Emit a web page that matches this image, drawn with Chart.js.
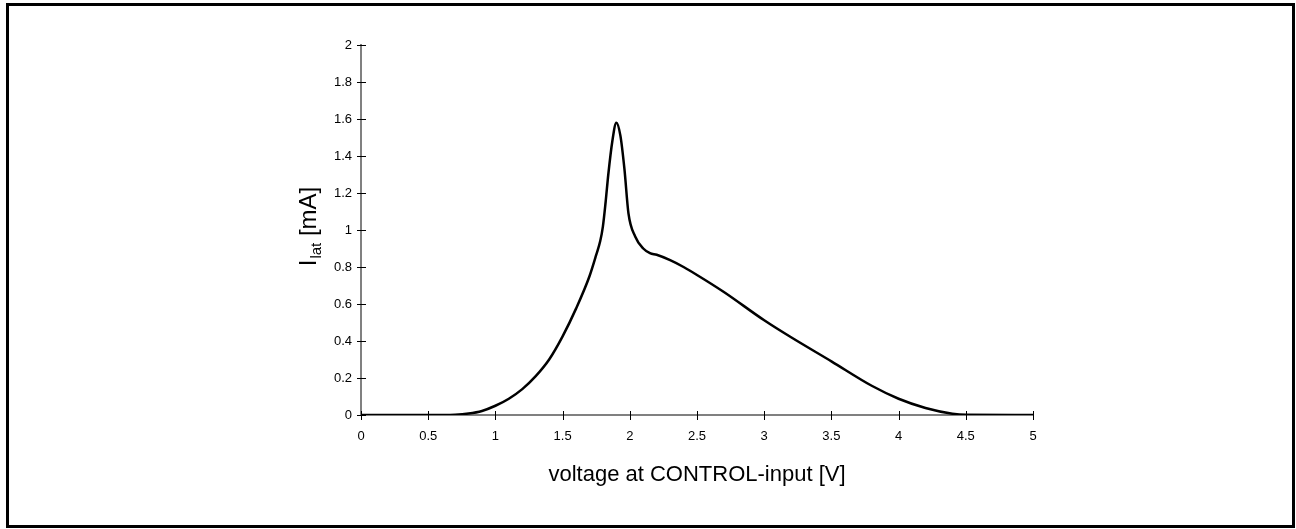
<!DOCTYPE html>
<html>
<head>
<meta charset="utf-8">
<script src="https://cdn.jsdelivr.net/npm/chart.js@4/dist/chart.umd.min.js"></script>
<style>
  html, body { margin: 0; padding: 0; background: #fff; }
  #wrap { width: 1296px; height: 529px; position: relative; }
</style>
</head>
<body>
<div id="wrap"><canvas id="c" width="1296" height="529"></canvas></div>
<script>
// Data
const voltage = [0, 0.5, 0.7, 0.8, 0.9, 1.0, 1.1, 1.2, 1.3, 1.4, 1.5, 1.6, 1.7, 1.75, 1.78, 1.8, 1.82, 1.84, 1.87, 1.9, 1.93, 1.96, 1.99, 2.04, 2.1, 2.15, 2.2, 2.3, 2.4, 2.5, 2.7, 3.0, 3.2, 3.5, 3.8, 4.0, 4.2, 4.4, 4.5, 5.0];
const currentLat = [0, 0, 0.002, 0.008, 0.022, 0.05, 0.088, 0.14, 0.21, 0.30, 0.425, 0.575, 0.75, 0.865, 0.94, 1.02, 1.15, 1.3, 1.48, 1.58, 1.51, 1.33, 1.09, 0.965, 0.90, 0.875, 0.866, 0.837, 0.80, 0.757, 0.665, 0.512, 0.42, 0.29, 0.158, 0.088, 0.038, 0.007, 0.001, 0];
const xTicks = [0, 0.5, 1, 1.5, 2, 2.5, 3, 3.5, 4, 4.5, 5];
const yTicks = [0, 0.2, 0.4, 0.6, 0.8, 1, 1.2, 1.4, 1.6, 1.8, 2];
const xTitle = 'voltage at CONTROL-input [V]';
const yTitleMain = 'I';
const yTitleSub = 'lat';
const yTitleUnit = ' [mA]';

const points = voltage.map((v, i) => ({ x: v, y: currentLat[i] }));
const FONT = '"Liberation Sans", Arial, sans-serif';

const decor = {
  id: 'decor',
  afterDraw(chart) {
    const ctx = chart.ctx;
    const xs = chart.scales.x, ys = chart.scales.y;
    ctx.save();
    // tick marks crossing the axes
    ctx.strokeStyle = '#000';
    ctx.lineWidth = 1;
    ctx.beginPath();
    yTicks.forEach(t => {
      const py = Math.round(ys.getPixelForValue(t)) + 0.5;
      const ax = xs.left;
      ctx.moveTo(ax - 4, py); ctx.lineTo(ax + 5, py);
    });
    xTicks.forEach(t => {
      const px = Math.round(xs.getPixelForValue(t)) + 0.5;
      const ay = ys.bottom;
      ctx.moveTo(px, ay - 4); ctx.lineTo(px, ay + 5);
    });
    ctx.stroke();
    // x title
    ctx.fillStyle = '#000';
    ctx.font = '22px ' + FONT;
    ctx.textAlign = 'center';
    ctx.textBaseline = 'middle';
    ctx.fillText(xTitle, (xs.left + xs.right) / 2, 475);
    // y title with subscript
    ctx.translate(310, 227);
    ctx.rotate(-Math.PI / 2);
    ctx.textAlign = 'left';
    ctx.textBaseline = 'alphabetic';
    ctx.font = '24px ' + FONT;
    const wMain = ctx.measureText(yTitleMain).width;
    ctx.font = '15px ' + FONT;
    const wSub = ctx.measureText(yTitleSub).width;
    ctx.font = '24px ' + FONT;
    const wUnit = ctx.measureText(yTitleUnit).width;
    let x0 = -(wMain + wSub + wUnit) / 2;
    const base = 6;
    ctx.fillText(yTitleMain, x0, base);
    ctx.font = '15px ' + FONT;
    ctx.fillText(yTitleSub, x0 + wMain + 1, base + 5);
    ctx.font = '24px ' + FONT;
    ctx.fillText(yTitleUnit, x0 + wMain + wSub + 1, base);
    ctx.restore();
    // outer frame
    ctx.save();
    ctx.strokeStyle = '#000';
    ctx.lineWidth = 3;
    ctx.strokeRect(7.5, 4.5, 1286, 522);
    ctx.restore();
  }
};

new Chart(document.getElementById('c'), {
  type: 'scatter',
  data: {
    datasets: [{
      data: points,
      showLine: true,
      borderColor: '#000',
      borderWidth: 2.5,
      pointRadius: 0,
      cubicInterpolationMode: 'monotone',
      fill: false
    }]
  },
  options: {
    responsive: false,
    animation: false,
    devicePixelRatio: 1,
    layout: { padding: { left: 0, right: 263, top: 45, bottom: 0 } },
    plugins: { legend: { display: false }, tooltip: { enabled: false } },
    scales: {
      x: {
        type: 'linear', min: 0, max: 5,
        afterBuildTicks: (s) => { s.ticks = xTicks.map(v => ({ value: v })); },
        afterFit: (s) => { s.height = 114; },
        grid: { display: false, drawTicks: false },
        border: { display: true, color: '#808080', width: 2 },
        ticks: { color: '#000', font: { family: FONT, size: 13 }, padding: 14, maxRotation: 0,
          callback: (v) => String(v) }
      },
      y: {
        type: 'linear', min: 0, max: 2,
        afterBuildTicks: (s) => { s.ticks = yTicks.map(v => ({ value: v })); },
        afterFit: (s) => { s.width = 361; },
        grid: { display: false, drawTicks: false },
        border: { display: true, color: '#808080', width: 2 },
        ticks: { color: '#000', font: { family: FONT, size: 13 }, padding: 9,
          callback: (v) => String(v) }
      }
    }
  },
  plugins: [decor]
});
</script>
</body>
</html>
